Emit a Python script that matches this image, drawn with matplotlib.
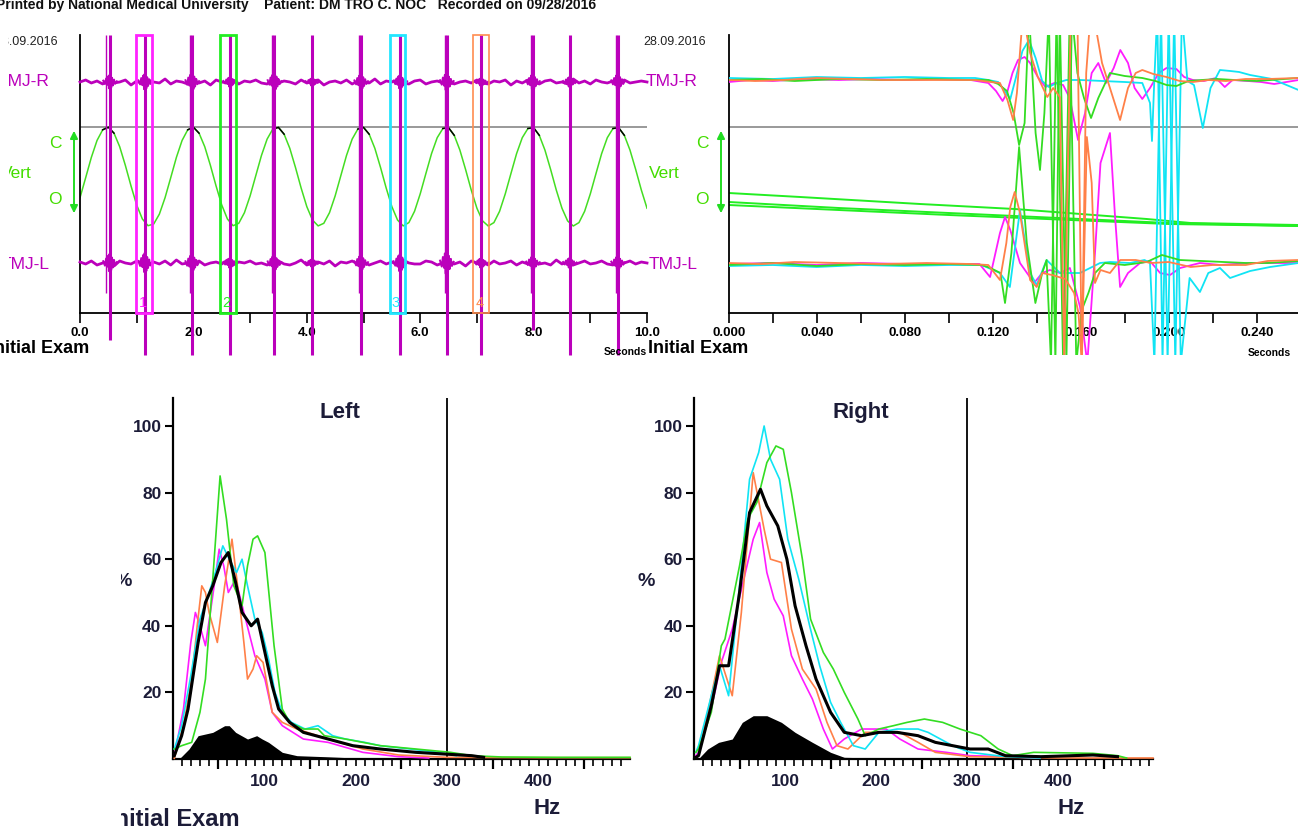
import numpy as np
import matplotlib
matplotlib.use("Agg")
import matplotlib.pyplot as plt
from matplotlib.patches import Rectangle, FancyArrowPatch
from matplotlib.transforms import Bbox, TransformedBbox, blended_transform_factory

W, H = 1298, 827
plt.rcParams['font.family'] = ['Liberation Sans', 'DejaVu Sans']
NARROW = ['Liberation Sans Narrow', 'Liberation Sans', 'DejaVu Sans']

# ---------------- data: top-left recording (0-10 s) ----------------
vert_t = np.arange(101) * 0.1
vert_y = [115.3, 135.3, 155.6, 172.5, 183.2, 185.8, 179.8, 166.3, 147.6, 127.0,
          108.0, 94.0, 87.3, 89.0, 98.9, 115.3, 135.3, 155.6, 172.5, 183.2,
          185.8, 179.8, 166.3, 147.6, 127.0, 108.0, 94.0, 87.3, 89.7, 100.3,
          117.1, 137.3, 157.5, 173.9, 183.9, 185.6, 178.8, 164.7, 145.6, 125.0,
          106.4, 93.0, 87.1, 89.7, 100.3, 117.1, 137.3, 157.5, 173.9, 183.9,
          185.6, 178.8, 164.7, 145.6, 125.0, 106.4, 93.0, 87.1, 90.4, 101.7,
          119.1, 139.4, 159.4, 175.3, 184.5, 185.3, 177.7, 162.9, 143.6, 123.0,
          104.8, 92.1, 87.0, 90.4, 101.7, 119.1, 139.4, 159.4, 175.3, 184.5,
          185.3, 177.7, 162.9, 143.6, 123.0, 104.8, 92.1, 87.0, 90.4, 101.7,
          119.1, 139.4, 159.4, 175.3, 184.5, 185.3, 177.7, 162.9, 143.6, 123.0,
          104.8]

emg_r_base = 231
emg_l_base = 50
emg_r_jit = [0, 2, -1, 1, -2, 3, -1, 0, 2, -3,
             1, -2, 2, 0, -1, 3, -2, 1, 0, -2,
             2, -1, 1, -3, 2, 0, -1, 2, -2, 1,
             0, 2, -1, -2, 3, -1, 1, 0, -2, 2,
             -1, 1, 2, -3, 0, 1, -1, 2, -2, 1,
             0, -1, 3, -2, 1, 0, 2, -1, -2, 1,
             2, -2, 0, 1, -1, 3, -2, 0, 1, -1,
             2, -1, -2, 1, 0, 2, -3, 1, -1, 2,
             0, -2, 1, 2, -1, 0, -2, 3, -1, 1,
             -2, 2, 0, -1, 1, -2, 2, -1, 0, 1,
             0]
emg_l_jit = [1, -1, 2, -2, 0, 1, -3, 2, 0, -1,
             2, 0, -2, 1, -1, 2, -2, 3, -1, 0,
             -1, 2, -2, 0, 1, -1, 3, -2, 1, 0,
             2, -1, 0, -2, 1, 2, -1, -2, 0, 3,
             -2, 0, 1, -1, 2, -3, 1, 0, 2, -1,
             1, -2, 0, 2, -1, 1, -2, 3, 0, -1,
             -1, 2, 1, -2, 0, 2, -1, 1, -3, 2,
             0, 1, -2, 2, -1, 0, 2, -2, 1, -1,
             2, -1, 0, -2, 3, -1, 1, -2, 0, 2,
             -1, 0, 2, -1, -2, 1, 0, 2, -1, 1,
             0]

burst_t = [0.53, 1.15, 1.98, 2.65, 3.43, 4.10, 4.96, 5.65, 6.47, 7.08, 7.99, 8.64, 9.49]
burst_r_amp = [7, 8, 9, 5, 9, 4, 8, 7, 9, 4, 8, 5, 8]
burst_l_amp = [9, 10, 9, 5, 8, 4, 8, 9, 12, 5, 7, 5, 7]
burst_dt = [-0.12, -0.09, -0.07, -0.05, -0.035, -0.02, -0.01, 0.0, 0.01, 0.02,
            0.035, 0.05, 0.07, 0.09, 0.12]
burst_shape = [0.2, -0.3, 0.5, -0.4, 0.8, -0.9, 1.0, -1.0, 0.9, -0.8,
               0.6, -0.5, 0.35, -0.25, 0.1]
spike_low = [-27, -42, -42, -42, -42, -42, -42, -42, -42, -42, -17, -42, -42]
spike_high = 278
extra_spike_t = [0.46, 1.94, 3.39, 4.92, 6.43, 7.95, 9.45]

boxes = [(0.99, 1.27, '1', '#ff22ff'), (2.47, 2.76, '2', '#22ee22'),
         (5.46, 5.74, '3', '#22e6ff'), (6.94, 7.22, '4', '#ff8c50')]

# ---------------- data: top-right zoomed recording ----------------
mag_r = [(0, 231), (.01, 233), (.02, 232), (.035, 234), (.05, 233), (.065, 234), (.08, 233),
         (.095, 234), (.11, 233), (.118, 230), (.1215, 222), (.1245, 212), (.1265, 220),
         (.129, 240), (.1315, 253), (.1345, 256), (.137, 250), (.1405, 236), (.144, 226),
         (.148, 230), (.152, 228), (.155, 215), (.1588, 173), (.162, 200), (.165, 240),
         (.168, 250), (.1715, 230), (.175, 245), (.178, 263), (.1815, 250), (.1845, 225),
         (.188, 214), (.1915, 225), (.1955, 240), (.199, 245), (.2035, 244), (.207, 236),
         (.211, 233), (.216, 232), (.2215, 235), (.2255, 226), (.229, 233), (.236, 232),
         (.242, 231), (.248, 229), (.259, 233)]
cyan_r = [(0, 235), (.02, 234), (.04, 236), (.06, 235), (.08, 236), (.1, 235), (.112, 235),
          (.118, 233), (.1225, 231), (.1255, 222), (.128, 214), (.1305, 235), (.1335, 262),
          (.1365, 273), (.1395, 255), (.1425, 232), (.1455, 226), (.149, 230), (.1535, 233),
          (.16, 233), (.17, 232), (.18, 231), (.188, 230), (.1915, 210), (.1924, 172),
          (.1935, 235), (.1948, 300), (.1972, -50), (.2000, 300), (.2030, -50), (.2060, 300),
          (.2085, 232), (.2115, 228), (.2155, 185), (.219, 225), (.2233, 243), (.228, 242),
          (.232, 241), (.237, 238), (.242, 236), (.247, 234), (.259, 223)]
green_r = [(0, 233), (.015, 234), (.03, 232), (.05, 234), (.07, 233), (.09, 234), (.11, 233),
           (.118, 233), (.1225, 229), (.1265, 222), (.1295, 200), (.132, 168), (.1345, 190),
           (.1365, 300), (.1395, 180), (.1415, 143), (.1435, 200), (.1455, 300), (.1485, -50),
           (.1505, 300), (.1535, -50), (.156, 300), (.1585, 240), (.1615, 215), (.1647, 195),
           (.168, 215), (.1733, 240), (.18, 237), (.188, 235), (.194, 232), (.199, 228),
           (.2035, 227), (.209, 232), (.215, 233), (.222, 234), (.23, 233), (.24, 232), (.259, 235)]
orange_r = [(0, 233), (.012, 232), (.025, 233), (.04, 235), (.055, 234), (.07, 233), (.085, 233),
            (.1, 233), (.112, 233), (.119, 231), (.1233, 230), (.1267, 213), (.1293, 193),
            (.131, 220), (.133, 278), (.1345, 290), (.137, 260), (.1405, 236), (.1448, 216),
            (.1475, 225), (.1505, 216), (.1525, -50), (.1555, 300), (.1585, 300), (.1605, -50),
            (.1625, 240), (.1645, 300), (.1665, 290), (.1697, 250), (.1733, 225), (.1779, 193),
            (.1815, 225), (.185, 240), (.188, 243), (.193, 239), (.199, 236), (.205, 232),
            (.211, 231), (.218, 233), (.226, 232), (.235, 234), (.245, 234), (.259, 235)]
mag_l = [(0, 49), (.02, 50), (.04, 48), (.06, 50), (.08, 49), (.1, 49), (.114, 49), (.1188, 36),
         (.1233, 80), (.1256, 96), (.128, 83), (.1324, 50), (.1388, 30), (.1425, 40), (.146, 43),
         (.1506, 40), (.1551, 45), (.1597, 6), (.163, -50), (.1665, 60), (.169, 150), (.1733, 180),
         (.1755, 100), (.1779, 26), (.1815, 40), (.187, 50), (.1915, 52), (.1961, 40),
         (.2006, 38), (.2052, 45), (.2142, 50), (.2233, 48), (.237, 50), (.259, 50)]
cyan_l = [(0, 47), (.02, 48), (.04, 46), (.06, 48), (.08, 47), (.1, 48), (.115, 48), (.1233, 40),
          (.1278, 26), (.1324, 103), (.137, 40), (.14, 28), (.1445, 53), (.1506, 40), (.1597, 40),
          (.1688, 50), (.1733, 51), (.1824, 50), (.189, 53), (.1915, 50), (.1935, -50),
          (.1965, 300), (.1995, -50), (.2025, 300), (.2055, -50), (.2095, 35), (.2142, 21),
          (.218, 40), (.2233, 45), (.2279, 35), (.237, 42), (.2461, 46), (.259, 50)]
green_l = [(0, 48), (.02, 50), (.04, 47), (.06, 49), (.08, 48), (.1, 49), (.115, 48), (.119, 45),
           (.1235, 40), (.1256, 10), (.1285, 60), (.132, 166), (.1355, 70), (.1394, 10),
           (.1425, 40), (.1445, 53), (.1465, -50), (.149, 300), (.152, -50), (.155, 300),
           (.158, -50), (.1605, 3), (.1635, 20), (.1665, 40), (.171, 50), (.18, 48), (.19, 51),
           (.1969, 58), (.205, 53), (.215, 52), (.225, 51), (.235, 50), (.245, 50), (.259, 52)]
orange_l = [(0, 50), (.015, 49), (.03, 51), (.05, 50), (.07, 49), (.09, 50), (.11, 49), (.118, 48),
            (.1233, 33), (.1262, 70), (.128, 106), (.13, 121), (.1324, 100), (.137, 33),
            (.14, 26), (.1425, 40), (.147, 38), (.153, 34), (.157, 20), (.159, 0), (.1605, -50),
            (.1628, 176), (.165, 130), (.1665, 30), (.169, 43), (.1733, 40), (.178, 53),
            (.185, 53), (.192, 50), (.2, 51), (.21, 46), (.22, 48), (.235, 48), (.245, 52), (.259, 53)]
vert_lines = [
    [(0, 120), (.0325, 116), (.087, 109), (.13, 104), (.16, 99), (.19, 94), (.21, 90), (.259, 88)],
    [(0, 111), (.05, 105), (.1, 100), (.15, 95), (.2, 90), (.259, 87)],
    [(0, 108), (.05, 103), (.1, 98), (.15, 93.5), (.2, 89), (.259, 87)],
]

# ---------------- data: spectra (Hz, %) ----------------
left_green = [(2, 3), (10, 4), (21, 5), (30, 14), (36, 24), (44, 54), (52, 85), (59, 72), (67, 52),
              (76, 46), (82, 58), (88, 66), (93, 67), (101, 62), (111, 34), (120, 15), (128, 11),
              (143, 9), (159, 9), (166, 7), (189, 6), (227, 4), (266, 3), (304, 2), (327, 1),
              (360, 0.6), (420, 0.5), (500, 0.5)]
left_black = [(2, 1), (10, 7), (17, 15), (28, 35), (36, 47), (44, 52), (53, 59), (61, 62), (69, 53),
              (76, 44), (86, 40), (93, 42), (101, 32), (109, 22), (116, 15), (128, 11), (143, 8),
              (170, 6), (197, 4), (227, 3), (266, 2), (327, 1), (340, 0.5)]
left_cyan = [(2, 3), (10, 10), (20, 25), (30, 42), (40, 50), (48, 57), (55, 64), (62, 60), (70, 56),
             (76, 60), (82, 52), (90, 42), (98, 38), (105, 30), (112, 20), (120, 14), (130, 11),
             (145, 9), (159, 10), (175, 7), (189, 6), (210, 5), (227, 4), (260, 3), (290, 2), (310, 1)]
left_magenta = [(2, 1), (12, 15), (20, 35), (25, 44), (30, 40), (36, 34), (44, 49), (51, 63),
                (56, 58), (61, 50), (69, 54), (78, 44), (90, 31), (101, 24), (109, 14), (120, 10),
                (143, 6), (170, 5), (208, 2), (247, 0.7), (280, 0.3)]
left_orange = [(2, 0.2), (12, 10), (21, 24), (27, 40), (32, 52), (36, 50), (40, 44), (49, 35),
               (57, 52), (65, 66), (72, 50), (78, 35), (82, 24), (88, 27), (92, 31), (99, 29),
               (109, 14), (120, 11), (136, 9), (170, 6), (208, 3), (247, 1.2), (300, 0.5),
               (400, 0.4), (500, 0.4)]
left_fill = [(5, 0), (9, 0.5), (18, 3), (28, 7), (44, 8), (57, 10), (62, 10), (69, 8), (82, 6),
             (92, 7), (98, 6), (105, 5), (120, 2), (136, 1), (166, 0.7), (200, 0.3), (230, 0)]

right_green = [(2, 2), (5, 3), (19, 14), (30, 34), (34, 36), (50, 58), (59, 72), (69, 77), (80, 89),
               (90, 94), (98, 93), (107, 80), (119, 60), (128, 42), (142, 32), (153, 27), (165, 20),
               (180, 12), (188, 7), (203, 9), (219, 10), (234, 11), (253, 12), (273, 11), (292, 9),
               (315, 7), (334, 3), (350, 1), (373, 2), (438, 1.7), (465, 1), (475, 0.3)]
right_cyan = [(2, 2), (5, 4), (19, 19), (28, 28), (38, 19), (50, 52), (61, 84), (71, 92), (77, 100),
              (84, 90), (94, 84), (103, 66), (115, 54), (127, 40), (138, 28), (150, 17), (161, 11),
              (175, 4), (188, 3), (203, 8), (223, 9), (246, 9), (257, 8), (284, 4), (303, 2),
              (342, 0.7), (380, 0.3)]
right_black = [(2, 0.5), (5, 1), (19, 16), (28, 28), (38, 28), (50, 50), (61, 74), (73, 81), (80, 76),
               (92, 70), (102, 60), (111, 46), (123, 34), (134, 24), (150, 14), (165, 8), (184, 7),
               (203, 8), (223, 8), (246, 7), (265, 5), (303, 3), (323, 3), (342, 1), (381, 0.7),
               (438, 1.2), (465, 0.7)]
right_magenta = [(2, 1), (5, 2), (19, 15), (30, 29), (42, 39), (53, 52), (65, 66), (72, 71), (80, 56),
                 (88, 48), (98, 43), (107, 31), (119, 24), (130, 18), (142, 9), (152, 3), (165, 6),
                 (184, 9), (211, 9), (226, 6), (246, 3), (277, 2), (303, 1), (342, 0.7), (380, 0.3)]
right_orange = [(2, 0.5), (5, 1), (19, 19), (28, 31), (35, 25), (42, 19), (52, 44), (65, 86),
                (77, 69), (84, 60), (96, 59), (107, 39), (119, 27), (134, 21), (146, 11), (157, 4),
                (169, 3), (188, 8), (211, 8), (226, 8), (246, 5), (265, 2), (303, 0.7), (400, 0.3),
                (504, 0.3)]
right_fill = [(5, 0), (7, 0.7), (15, 3), (27, 5), (42, 6), (53, 11), (65, 13), (80, 13), (96, 11),
              (111, 8), (130, 5), (150, 2), (165, 0.5), (200, 0.3), (300, 0.2), (330, 0)]

# ---------------- colours ----------------
EMG = '#bb00bb'
VERT = '#44dd22'
LABEL_GREEN = '#44dd00'
C_MAG, C_CYAN, C_GREEN, C_ORANGE = '#ff1cff', '#10e4f4', '#33dd22', '#ff8048'
TXT = '#1c1c38'

fig = plt.figure(figsize=(W / 100, H / 100), dpi=100)


def add_ax(x0, y0, x1, y1):
    return fig.add_axes([x0 / W, 1 - y1 / H, (x1 - x0) / W, (y1 - y0) / H])


def ftext(x, y, s, clip_x=None, **kw):
    t = fig.text(x / W, 1 - y / H, s, **kw)
    if clip_x is not None:
        t.set_clip_box(TransformedBbox(Bbox([[clip_x / W, 0], [1, 1]]), fig.transFigure))
        t.set_clip_on(True)
    return t


def xy(pairs):
    a = np.array(pairs, dtype=float)
    return a[:, 0], a[:, 1]


def top_axes_style(ax):
    ax.patch.set_alpha(0)
    for s in ['top', 'right']:
        ax.spines[s].set_visible(False)
    for s in ['left', 'bottom']:
        ax.spines[s].set_linewidth(1.3)
    ax.set_yticks([])
    ax.set_ylim(0, 278)
    ax.tick_params(axis='x', direction='out', length=7, width=1.2, pad=3)


# ================= top-left =================
ax1 = add_ax(80, 35, 647, 313)
top_axes_style(ax1)
ax1.set_xlim(0, 10)
ax1.set_xticks(np.arange(0, 11, 1.0))
ax1.set_xticklabels([f"{v:.1f}" if i % 2 == 0 else "" for i, v in enumerate(np.arange(0, 11, 1.0))],
                    fontsize=9.5, fontweight='bold', family=NARROW)
ax1.axhline(186, color='#888888', lw=1.2, zorder=1)

vy = np.array(vert_y)
ax1.plot(vert_t, vy, color=VERT, lw=1.1, zorder=2)
ax1.plot(vert_t, np.where(vy >= 177, vy, np.nan), color='black', lw=1.1, zorder=3)

for base, jit, amps in [(emg_r_base, emg_r_jit, burst_r_amp), (emg_l_base, emg_l_jit, burst_l_amp)]:
    ax1.plot(vert_t, base + np.array(jit), color=EMG, lw=2.0, zorder=4, clip_on=False)
    for bt, a in zip(burst_t, amps):
        ax1.plot(bt + np.array(burst_dt), base + a * np.array(burst_shape), color=EMG, lw=1.4, zorder=4)
ax1.vlines(burst_t, spike_low, spike_high, color=EMG, lw=2.2, zorder=5, clip_on=False)
ax1.vlines(extra_spike_t, 20, spike_high, color=EMG, lw=1.0, zorder=5, clip_on=False)

for t0, t1, lab, col in boxes:
    lw = 1.2 if lab == '4' else 2.0
    ax1.add_patch(Rectangle((t0, 0), t1 - t0, 278, fill=False, edgecolor=col, lw=lw, zorder=6, clip_on=False))
    ax1.text(t0 + 0.04, 10, lab, color=col, fontsize=10.5, ha='left', va='center', zorder=6)

# ================= top-right =================
ax2 = add_ax(728.7, 35, 1298, 313)
top_axes_style(ax2)
xmax2 = (1298 - 728.7) / 2200
ax2.set_xlim(0, xmax2)
tk = np.arange(0, 0.26, 0.02)
ax2.set_xticks(tk)
ax2.set_xticklabels([f"{v:.3f}" if i % 2 == 0 else "" for i, v in enumerate(tk)],
                    fontsize=9.5, fontweight='bold', family=NARROW)
ax2.axhline(186, color='#888888', lw=1.2, zorder=1)
clip_rect = Rectangle((0, -42), xmax2, 320, transform=ax2.transData)
for pairs in vert_lines:
    t, y = xy(pairs)
    ax2.plot(t, y, color='#22ee22', lw=1.4, zorder=2)
for pairs, col in [(mag_r, C_MAG), (mag_l, C_MAG), (cyan_r, C_CYAN), (cyan_l, C_CYAN),
                   (green_r, C_GREEN), (green_l, C_GREEN), (orange_r, C_ORANGE), (orange_l, C_ORANGE)]:
    t, y = xy(pairs)
    ln, = ax2.plot(t, y, color=col, lw=1.3, zorder=3)
    ln.set_clip_path(clip_rect)

# ---- top labels ----
ftext(-4, 5, "Printed by National Medical University    Patient: DM TRO C. NOC   Recorded on 09/28/2016",
      fontsize=10, fontweight='bold', ha='left', va='center', color='#111111')
ftext(58, 42, "28.09.2016", clip_x=8, fontsize=9, ha='right', va='center', family=NARROW, color='#222222')
ftext(706, 42, "28.09.2016", fontsize=9, ha='right', va='center', family=NARROW, color='#222222')
ftext(50, 81, "TMJ-R", clip_x=9, fontsize=12.5, ha='right', va='center', color=EMG)
ftext(50, 264, "TMJ-L", clip_x=9, fontsize=12.5, ha='right', va='center', color=EMG)
ftext(698, 81, "TMJ-R", fontsize=12.5, ha='right', va='center', color=EMG)
ftext(698, 264, "TMJ-L", fontsize=12.5, ha='right', va='center', color=EMG)
for xr, xc, xa, cx in ((32, 55, 74, 9), (680, 702, 721, None)):
    ftext(xr, 173, "Vert", clip_x=cx, fontsize=12.5, ha='right', va='center', color=LABEL_GREEN)
    ftext(xc, 144, "C", fontsize=12.5, ha='center', va='center', color=LABEL_GREEN)
    ftext(xc, 200, "O", fontsize=12.5, ha='center', va='center', color=LABEL_GREEN)
    fig.add_artist(FancyArrowPatch(
        (xa / W, 1 - 128 / H), (xa / W, 1 - 216 / H), transform=fig.transFigure,
        arrowstyle='<|-|>', mutation_scale=11, color='#22dd22', lw=1.4))
ftext(89, 349, "Initial Exam", fontsize=13, fontweight='bold', ha='right', va='center')
ftext(648, 349, "Initial Exam", fontsize=13, fontweight='bold', ha='left', va='center')
ftext(647, 352, "Seconds", fontsize=7.5, fontweight='bold', ha='right', va='center', family=NARROW)
ftext(1248, 353, "Seconds", fontsize=7.5, fontweight='bold', ha='left', va='center', family=NARROW)


# ================= spectra =================
def spectrum(ax, fill, lines, xmax, title):
    ax.set_xlim(0, xmax)
    ax.set_ylim(0, 108.4)
    for s in ['top', 'right']:
        ax.spines[s].set_visible(False)
    for s in ['left', 'bottom']:
        ax.spines[s].set_linewidth(1.6)
    ft, fy = xy(fill)
    ax.fill_between(ft, 0, fy, color='black', lw=0, zorder=2)
    for pairs, col, lw in lines:
        t, y = xy(pairs)
        ax.plot(t, y, color=col, lw=lw, zorder=3, clip_on=False)
    ax.axvline(300, color='black', lw=1.3, zorder=1)
    ax.set_yticks([20, 40, 60, 80, 100])
    ax.set_yticklabels(['20', '40', '60', '80', '100'], fontsize=12.5, fontweight='bold', color=TXT)
    ax.set_xticks([100, 200, 300, 400])
    ax.set_xticklabels(['100', '200', '300', '400'], fontsize=12.5, fontweight='bold', color=TXT)
    ax.set_xticks(np.arange(10, xmax, 10), minor=True)
    ax.tick_params(axis='y', direction='out', length=6, width=1.5, pad=2)
    ax.tick_params(axis='x', which='major', direction='out', length=5, width=1.2, pad=6)
    ax.tick_params(axis='x', which='minor', direction='out', length=5, width=1.2)
    ax.vlines([50, 150, 250, 350, 450], 0, -0.028, transform=ax.get_xaxis_transform(),
              color='black', lw=1.6, clip_on=False)
    ax.text(183, 0.96, title, transform=blended_transform_factory(ax.transData, ax.transAxes),
            ha='center', va='center', fontsize=16, fontweight='bold', color=TXT)


ax3 = add_ax(172.5, 398, 630, 759)
spectrum(ax3, left_fill, [(left_magenta, C_MAG, 1.2), (left_orange, C_ORANGE, 1.2),
                          (left_cyan, C_CYAN, 1.2), (left_green, C_GREEN, 1.2),
                          (left_black, 'black', 2.2)], 500, "Left")
ax4 = add_ax(694, 398, 1153, 759)
spectrum(ax4, right_fill, [(right_magenta, C_MAG, 1.2), (right_orange, C_ORANGE, 1.2),
                           (right_cyan, C_CYAN, 1.2), (right_green, C_GREEN, 1.2),
                           (right_black, 'black', 2.2)], 504, "Right")

ftext(123, 581, "%", clip_x=121, fontsize=14, fontweight='bold', ha='center', va='center', color=TXT)
ftext(646, 581, "%", fontsize=14, fontweight='bold', ha='center', va='center', color=TXT)
ftext(547, 808, "Hz", fontsize=16, fontweight='bold', ha='center', va='center', color=TXT)
ftext(1071, 808, "Hz", fontsize=16, fontweight='bold', ha='center', va='center', color=TXT)
ftext(240, 819, "Initial Exam", clip_x=121, fontsize=17, fontweight='bold', ha='right', va='center',
      color=TXT)

fig.savefig("out.png", dpi=100)
